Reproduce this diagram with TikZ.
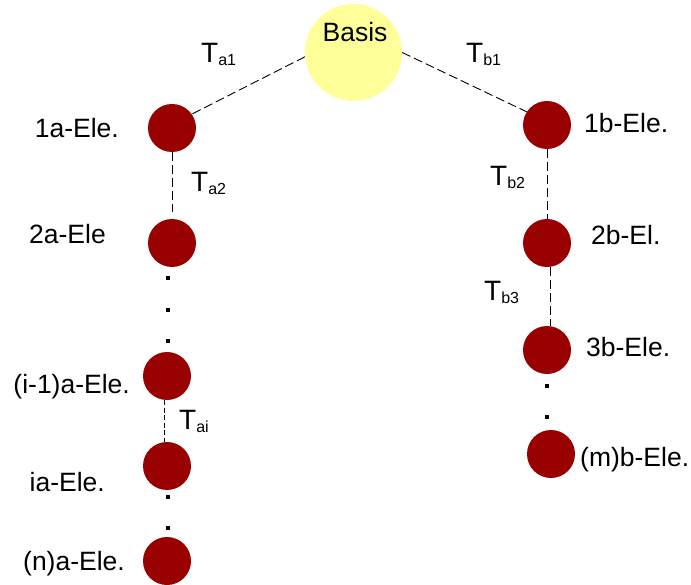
\documentclass[tikz,border=0pt]{standalone}
\usepackage{fontspec}
\setmainfont{Liberation Sans}
\definecolor{elemred}{HTML}{990000}
\definecolor{basisyellow}{HTML}{FFFF99}
% transition label: large T with a small lowered subscript
\newcommand{\transT}[1]{{\fontsize{28}{30}\selectfont T}\raisebox{-3pt}{\fontsize{16}{18}\selectfont #1}}
\begin{document}
\begin{tikzpicture}[x=1pt,y=-1pt,
  elem/.style={circle,fill=elemred,minimum size=48pt,inner sep=0pt},
  basis/.style={circle,fill=basisyellow,minimum size=97pt,inner sep=0pt},
  lbl/.style={inner sep=0pt,font=\fontsize{26.5}{29}\selectfont},
  tlbl/.style={inner sep=0pt,anchor=base west},
  link/.style={line width=0.9pt,dash pattern=on 9pt off 4pt},
  shortlink/.style={line width=0.9pt,dash pattern=on 5pt off 2.5pt},
  dotmark/.style={fill=black,inner sep=0pt,minimum size=3.2pt}]
\useasboundingbox (0,0) rectangle (691,585);

% root
\node[basis] (basis) at (353.5,52.5) {};
\node[lbl,anchor=base] (basistxt) at (355,42) {Basis};

% branch a
\node[elem] (a1) at (172,128) {};
\node[elem] (a2) at (172,243) {};
\node[elem] (ai1) at (167,376) {};
\node[elem] (ai) at (167,466) {};
\node[elem] (an) at (167,561) {};

% branch b
\node[elem] (b1) at (547,125) {};
\node[elem] (b2) at (547,243) {};
\node[elem] (b3) at (547,350) {};
\node[elem] (bm) at (551,454) {};

% element names
\node[lbl,anchor=base east] (la1) at (119,138) {1a-Ele.};
\node[lbl,anchor=base east] (la2) at (106,244) {2a-Ele};
\node[lbl,anchor=base east] (lai1) at (130,393) {(i-1)a-Ele.};
\node[lbl,anchor=base east] (lai) at (105,491) {ia-Ele.};
\node[lbl,anchor=base east] (lan) at (125,570) {(n)a-Ele.};
\node[lbl,anchor=base west] (lb1) at (584,133) {1b-Ele.};
\node[lbl,anchor=base west] (lb2) at (591,245) {2b-El.};
\node[lbl,anchor=base west] (lb3) at (586,356) {3b-Ele.};
\node[lbl,anchor=base west] (lbm) at (580,466) {(m)b-Ele.};

% transitions
\draw[link] (basis.185) -- (a1.35);
\draw[link] (basis.0) -- (b1.147);
\draw[link,shorten >=7pt] (a1) -- (a2);
\draw[shortlink] ([xshift=-3pt]ai1.south) -- ([xshift=-3pt]ai.north);
\draw[link] (b1) -- (b2);
\draw[link] ([xshift=3pt]b2.south) -- ([xshift=3pt]b3.north);

% transition labels
\node[tlbl] (ta1) at (201,63) {\transT{a1}};
\node[tlbl] (tb1) at (466,63) {\transT{b1}};
\node[tlbl] (ta2) at (191,192) {\transT{a2}};
\node[tlbl] (tb2) at (490,186) {\transT{b2}};
\node[tlbl] (tb3) at (484,301) {\transT{b3}};
\node[tlbl] (tai) at (179,429) {\transT{ai}};

% ellipsis dots
\foreach \y [count=\k] in {278,310,341,497,528}
  \node[dotmark] (da\k) at (168,\y) {};
\foreach \y [count=\k] in {386,417}
  \node[dotmark] (db\k) at (547,\y) {};
\end{tikzpicture}
\end{document}
